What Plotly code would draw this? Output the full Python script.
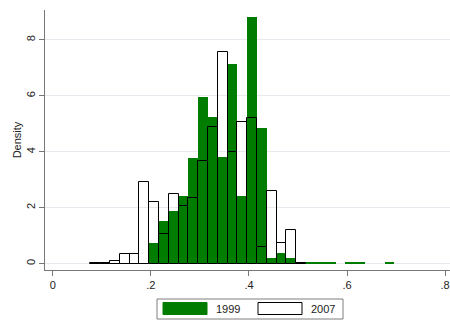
import plotly.graph_objects as go

# Bin midpoints (bin width 0.02)
bin_mid = [0.0865, 0.1065, 0.1265, 0.1465, 0.1665, 0.1865, 0.2065, 0.2265,
           0.2465, 0.2665, 0.2865, 0.3065, 0.3265, 0.3465, 0.3665, 0.3865,
           0.4065, 0.4265, 0.4465, 0.4665, 0.4865, 0.5065, 0.5265, 0.5465,
           0.5665, 0.5865, 0.6065, 0.6265, 0.6465, 0.6665, 0.6865]
bin_width = 0.02

dens_1999 = [0, 0, 0, 0, 0, 0, 0.74, 1.52,
             1.88, 2.41, 3.79, 5.97, 5.25, 3.82, 7.13, 2.41,
             8.83, 4.84, 0.21, 0.39, 0.19, 0.06, 0.03, 0.03,
             0.03, 0, 0.03, 0.06, 0, 0, 0.03]
dens_2007 = [0.03, 0.03, 0.08, 0.36, 0.36, 2.93, 2.21, 1.06,
             2.48, 2.06, 2.35, 3.68, 4.87, 7.58, 3.98, 5.05,
             5.19, 0.58, 2.60, 0.74, 1.20, 0.03, None, None,
             None, None, None, None, None, None, None]

x_ticks = [0, 0.2, 0.4, 0.6, 0.8]
x_tick_text = ["0", ".2", ".4", ".6", ".8"]
y_ticks = [0, 2, 4, 6, 8]
y_tick_text = ["0", "2", "4", "6", "8"]
series_names = ["1999", "2007"]

GREEN = "#007d00"
FONT = "Liberation Sans, Arial, sans-serif"

fig = go.Figure()
fig.add_trace(go.Bar(
    x=bin_mid, y=[v if v else None for v in dens_1999], width=bin_width,
    name=series_names[0], marker=dict(color=GREEN, line=dict(width=0)),
    showlegend=False))
fig.add_trace(go.Bar(
    x=bin_mid, y=dens_2007, width=bin_width, name=series_names[1],
    marker=dict(color="rgba(0,0,0,0)", line=dict(color="black", width=1)),
    showlegend=False))

W, H = 450, 322
L, R, T, B = 45, 0, 10, 52
pw, ph = W - L - R, H - T - B


def px(x):
    return (x - L) / pw


def py(y):
    return (H - B - y) / ph


shapes = [
    dict(type="rect", xref="paper", yref="paper", x0=px(157), x1=px(343),
         y0=py(319), y1=py(299), line=dict(color="#7f7f7f", width=1),
         fillcolor="white"),
    dict(type="rect", xref="paper", yref="paper", x0=px(163), x1=px(207),
         y0=py(314.5), y1=py(302.5), line=dict(color=GREEN, width=1),
         fillcolor=GREEN),
    dict(type="rect", xref="paper", yref="paper", x0=px(258), x1=px(302),
         y0=py(314.5), y1=py(302.5), line=dict(color="black", width=1),
         fillcolor="white"),
]
annotations = [
    dict(text=series_names[0], xref="paper", yref="paper", x=px(214),
         y=py(308.5), xanchor="left", yanchor="middle", showarrow=False,
         font=dict(size=11, color="#222", family=FONT)),
    dict(text=series_names[1], xref="paper", yref="paper", x=px(309),
         y=py(308.5), xanchor="left", yanchor="middle", showarrow=False,
         font=dict(size=11, color="#222", family=FONT)),
]

fig.update_layout(
    width=W, height=H,
    margin=dict(l=L, r=R, t=T, b=B, autoexpand=False),
    barmode="overlay", bargap=0,
    paper_bgcolor="white", plot_bgcolor="white",
    font=dict(family=FONT, size=11, color="#222"),
    shapes=shapes, annotations=annotations,
    xaxis=dict(range=[-0.016, 0.81], tickvals=x_ticks, ticktext=x_tick_text,
               ticks="outside", ticklen=5, tickcolor="#777",
               showline=True, linecolor="#777", linewidth=1,
               showgrid=False, zeroline=False, automargin=False),
    yaxis=dict(range=[-0.23, 9.07], tickvals=y_ticks, ticktext=y_tick_text,
               tickangle=-90, ticks="outside", ticklen=5, tickcolor="#777",
               showline=True, linecolor="#777", linewidth=1,
               showgrid=True, gridcolor="#e6eaee", gridwidth=1,
               zeroline=False, automargin=False,
               title=dict(text="Density", standoff=0,
                          font=dict(size=11, family=FONT))),
)

fig.write_html("out.html",
               config={"displayModeBar": False},
               post_script="document.body.style.margin='0';"
                           "document.body.style.overflow='hidden';")
